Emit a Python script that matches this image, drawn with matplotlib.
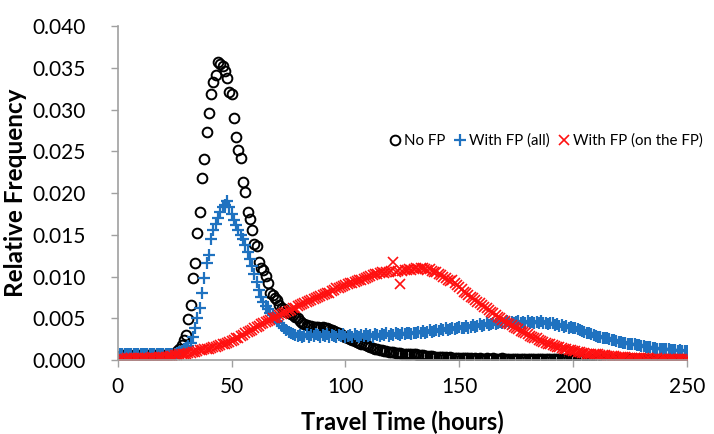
import numpy as np
import matplotlib
matplotlib.use("Agg")
from matplotlib import pyplot as plt

# travel time bins (hours)
hours = np.arange(1, 251)

# relative frequency, no floodplain
no_fp = [
    0.0005, 0.0006, 0.0005, 0.0006, 0.0005, 0.0005, 0.0006, 0.0005, 0.0006, 0.0005,
    0.0006, 0.0005, 0.0006, 0.0006, 0.0005, 0.0006, 0.0006, 0.0005, 0.0006, 0.0006,
    0.0006, 0.0007, 0.0007, 0.0008, 0.0009, 0.0011, 0.0013, 0.0018, 0.0024, 0.0030,
    0.0049, 0.0066, 0.0098, 0.0116, 0.0152, 0.0177, 0.0218, 0.0241, 0.0273, 0.0296,
    0.0319, 0.0333, 0.0341, 0.0357, 0.0355, 0.0352, 0.0346, 0.0338, 0.0321, 0.0319,
    0.0290, 0.0267, 0.0252, 0.0242, 0.0213, 0.0201, 0.0177, 0.0169, 0.0156, 0.0139,
    0.0137, 0.0118, 0.0110, 0.0108, 0.0101, 0.0093, 0.0081, 0.0078, 0.0074, 0.0072,
    0.0066, 0.0063, 0.0061, 0.0058, 0.0057, 0.0055, 0.0054, 0.0052, 0.0050, 0.0047,
    0.0044, 0.0043, 0.0042, 0.0041, 0.0041, 0.0040, 0.0040, 0.0040, 0.0039, 0.0040,
    0.0039, 0.0038, 0.0037, 0.0036, 0.0035, 0.0034, 0.0033, 0.0031, 0.0029, 0.0028,
    0.0027, 0.0025, 0.0024, 0.0023, 0.0022, 0.0021, 0.0020, 0.0019, 0.0018, 0.0017,
    0.0016, 0.0015, 0.0014, 0.0013, 0.0012, 0.0012, 0.0011, 0.0011, 0.0010, 0.0010,
    0.0010, 0.0009, 0.0009, 0.0009, 0.0008, 0.0008, 0.0008, 0.0007, 0.0007, 0.0007,
    0.0007, 0.0006, 0.0006, 0.0006, 0.0005, 0.0005, 0.0005, 0.0005, 0.0004, 0.0004,
    0.0004, 0.0004, 0.0004, 0.0004, 0.0003, 0.0004, 0.0003, 0.0003, 0.0003, 0.0003,
    0.0003, 0.0003, 0.0003, 0.0003, 0.0003, 0.0002, 0.0003, 0.0002, 0.0003, 0.0002,
    0.0002, 0.0003, 0.0002, 0.0002, 0.0003, 0.0002, 0.0002, 0.0002, 0.0003, 0.0002,
    0.0002, 0.0002, 0.0002, 0.0002, 0.0002, 0.0002, 0.0002, 0.0002, 0.0002, 0.0002,
    0.0002, 0.0002, 0.0001, 0.0002, 0.0002, 0.0001, 0.0002, 0.0002, 0.0001, 0.0002,
    0.0001, 0.0002, 0.0001, 0.0002, 0.0001, 0.0001, 0.0002, 0.0001, 0.0001, 0.0002,
    0.0001, 0.0001, 0.0001, 0.0002, 0.0001, 0.0001, 0.0001, 0.0001, 0.0002, 0.0001,
    0.0001, 0.0001, 0.0001, 0.0001, 0.0001, 0.0001, 0.0002, 0.0001, 0.0001, 0.0001,
    0.0001, 0.0001, 0.0001, 0.0001, 0.0001, 0.0001, 0.0001, 0.0001, 0.0001, 0.0001,
    0.0001, 0.0001, 0.0001, 0.0001, 0.0001, 0.0001, 0.0001, 0.0001, 0.0001, 0.0001,
    0.0001, 0.0001, 0.0001, 0.0001, 0.0001, 0.0001, 0.0001, 0.0001, 0.0001, 0.0001,
]

# with floodplain, all particles
fp_all = [
    0.0007, 0.0008, 0.0007, 0.0007, 0.0008, 0.0007, 0.0008, 0.0007, 0.0007, 0.0008,
    0.0007, 0.0008, 0.0007, 0.0008, 0.0007, 0.0007, 0.0008, 0.0007, 0.0008, 0.0007,
    0.0008, 0.0007, 0.0008, 0.0008, 0.0008, 0.0009, 0.0010, 0.0011, 0.0013, 0.0015,
    0.0017, 0.0021, 0.0028, 0.0038, 0.0050, 0.0063, 0.0081, 0.0098, 0.0116, 0.0126,
    0.0145, 0.0156, 0.0163, 0.0170, 0.0177, 0.0183, 0.0186, 0.0190, 0.0183, 0.0175,
    0.0168, 0.0162, 0.0156, 0.0150, 0.0145, 0.0138, 0.0130, 0.0121, 0.0113, 0.0103,
    0.0094, 0.0084, 0.0076, 0.0070, 0.0065, 0.0061, 0.0057, 0.0054, 0.0050, 0.0047,
    0.0044, 0.0041, 0.0038, 0.0036, 0.0034, 0.0033, 0.0031, 0.0030, 0.0029, 0.0030,
    0.0028, 0.0029, 0.0031, 0.0028, 0.0030, 0.0029, 0.0031, 0.0030, 0.0028, 0.0030,
    0.0029, 0.0031, 0.0028, 0.0030, 0.0029, 0.0028, 0.0030, 0.0029, 0.0031, 0.0028,
    0.0029, 0.0030, 0.0028, 0.0031, 0.0029, 0.0028, 0.0030, 0.0029, 0.0031, 0.0029,
    0.0030, 0.0028, 0.0031, 0.0030, 0.0029, 0.0031, 0.0030, 0.0032, 0.0029, 0.0031,
    0.0030, 0.0032, 0.0031, 0.0030, 0.0032, 0.0031, 0.0033, 0.0032, 0.0031, 0.0033,
    0.0032, 0.0034, 0.0033, 0.0035, 0.0033, 0.0034, 0.0036, 0.0034, 0.0035, 0.0036,
    0.0035, 0.0037, 0.0036, 0.0038, 0.0036, 0.0037, 0.0039, 0.0037, 0.0038, 0.0040,
    0.0038, 0.0039, 0.0041, 0.0039, 0.0040, 0.0042, 0.0040, 0.0041, 0.0043, 0.0041,
    0.0042, 0.0044, 0.0042, 0.0043, 0.0045, 0.0043, 0.0044, 0.0046, 0.0044, 0.0045,
    0.0047, 0.0045, 0.0046, 0.0044, 0.0046, 0.0047, 0.0045, 0.0046, 0.0044, 0.0047,
    0.0045, 0.0046, 0.0044, 0.0046, 0.0045, 0.0047, 0.0044, 0.0045, 0.0043, 0.0045,
    0.0044, 0.0042, 0.0043, 0.0041, 0.0042, 0.0040, 0.0041, 0.0039, 0.0040, 0.0038,
    0.0038, 0.0037, 0.0036, 0.0035, 0.0034, 0.0033, 0.0032, 0.0031, 0.0030, 0.0029,
    0.0028, 0.0028, 0.0027, 0.0026, 0.0026, 0.0025, 0.0024, 0.0024, 0.0023, 0.0022,
    0.0022, 0.0021, 0.0021, 0.0020, 0.0020, 0.0019, 0.0019, 0.0018, 0.0018, 0.0017,
    0.0017, 0.0016, 0.0016, 0.0016, 0.0015, 0.0015, 0.0014, 0.0014, 0.0014, 0.0013,
    0.0013, 0.0013, 0.0012, 0.0012, 0.0012, 0.0011, 0.0012, 0.0011, 0.0011, 0.0011,
]

# with floodplain, particles that went onto the floodplain
fp_on = [
    0.0002, 0.0003, 0.0002, 0.0003, 0.0002, 0.0003, 0.0003, 0.0002, 0.0003, 0.0003,
    0.0002, 0.0003, 0.0003, 0.0003, 0.0004, 0.0003, 0.0003, 0.0004, 0.0003, 0.0004,
    0.0004, 0.0004, 0.0005, 0.0005, 0.0006, 0.0006, 0.0007, 0.0007, 0.0008, 0.0008,
    0.0009, 0.0009, 0.0010, 0.0010, 0.0011, 0.0012, 0.0012, 0.0013, 0.0014, 0.0014,
    0.0015, 0.0016, 0.0016, 0.0017, 0.0018, 0.0019, 0.0020, 0.0021, 0.0022, 0.0023,
    0.0024, 0.0026, 0.0027, 0.0029, 0.0030, 0.0032, 0.0034, 0.0035, 0.0036, 0.0038,
    0.0040, 0.0041, 0.0043, 0.0044, 0.0046, 0.0047, 0.0048, 0.0050, 0.0051, 0.0052,
    0.0054, 0.0055, 0.0057, 0.0058, 0.0059, 0.0060, 0.0062, 0.0063, 0.0065, 0.0066,
    0.0067, 0.0068, 0.0070, 0.0071, 0.0072, 0.0073, 0.0074, 0.0076, 0.0077, 0.0078,
    0.0079, 0.0080, 0.0081, 0.0083, 0.0084, 0.0086, 0.0087, 0.0088, 0.0089, 0.0090,
    0.0091, 0.0092, 0.0093, 0.0094, 0.0095, 0.0096, 0.0096, 0.0097, 0.0099, 0.0100,
    0.0101, 0.0102, 0.0103, 0.0103, 0.0104, 0.0105, 0.0104, 0.0106, 0.0105, 0.0107,
    0.0117, 0.0106, 0.0107, 0.0091, 0.0107, 0.0108, 0.0108, 0.0109, 0.0108, 0.0109,
    0.0110, 0.0109, 0.0110, 0.0110, 0.0109, 0.0108, 0.0109, 0.0107, 0.0106, 0.0105,
    0.0103, 0.0102, 0.0100, 0.0098, 0.0096, 0.0095, 0.0096, 0.0093, 0.0090, 0.0088,
    0.0085, 0.0082, 0.0080, 0.0078, 0.0076, 0.0074, 0.0072, 0.0070, 0.0068, 0.0066,
    0.0064, 0.0062, 0.0060, 0.0058, 0.0056, 0.0054, 0.0052, 0.0050, 0.0048, 0.0047,
    0.0045, 0.0043, 0.0042, 0.0040, 0.0038, 0.0037, 0.0035, 0.0034, 0.0032, 0.0031,
    0.0029, 0.0028, 0.0027, 0.0026, 0.0024, 0.0023, 0.0022, 0.0021, 0.0020, 0.0019,
    0.0018, 0.0017, 0.0016, 0.0016, 0.0015, 0.0014, 0.0013, 0.0012, 0.0012, 0.0011,
    0.0011, 0.0010, 0.0010, 0.0009, 0.0009, 0.0008, 0.0008, 0.0008, 0.0007, 0.0007,
    0.0007, 0.0006, 0.0006, 0.0006, 0.0005, 0.0005, 0.0005, 0.0005, 0.0004, 0.0004,
    0.0004, 0.0004, 0.0004, 0.0003, 0.0003, 0.0003, 0.0003, 0.0003, 0.0003, 0.0003,
    0.0003, 0.0002, 0.0003, 0.0002, 0.0002, 0.0002, 0.0003, 0.0002, 0.0002, 0.0002,
    0.0002, 0.0002, 0.0002, 0.0002, 0.0002, 0.0002, 0.0002, 0.0002, 0.0002, 0.0002,
]

series_labels = ["No FP", "With FP (all)", "With FP (on the FP)"]

plt.rcParams["font.family"] = ["Lato", "DejaVu Sans"]

fig = plt.figure(figsize=(7.14, 4.34), dpi=100)
ax = fig.add_axes([0.165, 0.17, 0.797, 0.77])

ax.plot(hours, no_fp, linestyle="none", marker="o", markersize=7,
        markerfacecolor="none", markeredgecolor="black", markeredgewidth=1.4,
        label=series_labels[0])
ax.plot(hours, fp_all, linestyle="none", marker="+", markersize=8,
        color="#1f72c0", markeredgewidth=1.6, label=series_labels[1])
ax.plot(hours, fp_on, linestyle="none", marker="x", markersize=6.5,
        color="#ff1010", markeredgewidth=1.2, label=series_labels[2])

ax.set_xlim(0, 250)
ax.set_ylim(0, 0.040)
ax.set_xticks([0, 50, 100, 150, 200, 250])
ax.set_yticks(np.arange(0, 0.0401, 0.005))
ax.yaxis.set_major_formatter(plt.FormatStrFormatter("%.3f"))
ax.tick_params(labelsize=15, color="#a0a0a0", length=5, width=1)
ax.tick_params(axis="y", pad=18)
ax.tick_params(axis="x", pad=7)

for side in ["top", "right"]:
    ax.spines[side].set_visible(False)
for side in ["left", "bottom"]:
    ax.spines[side].set_color("#a0a0a0")
    ax.spines[side].set_linewidth(1.2)

ax.set_xlabel("Travel Time (hours)", fontsize=17, fontweight="bold", labelpad=10)
ax.set_ylabel("Relative Frequency", fontsize=17.5, fontweight="bold", labelpad=4)

fig.legend(loc="center left", bbox_to_anchor=(0.535, 0.676), ncol=3,
           frameon=False, fontsize=10.8, handletextpad=0.1, columnspacing=0.45,
           handlelength=1.0, borderaxespad=0)

fig.savefig("out.png", dpi=100)
